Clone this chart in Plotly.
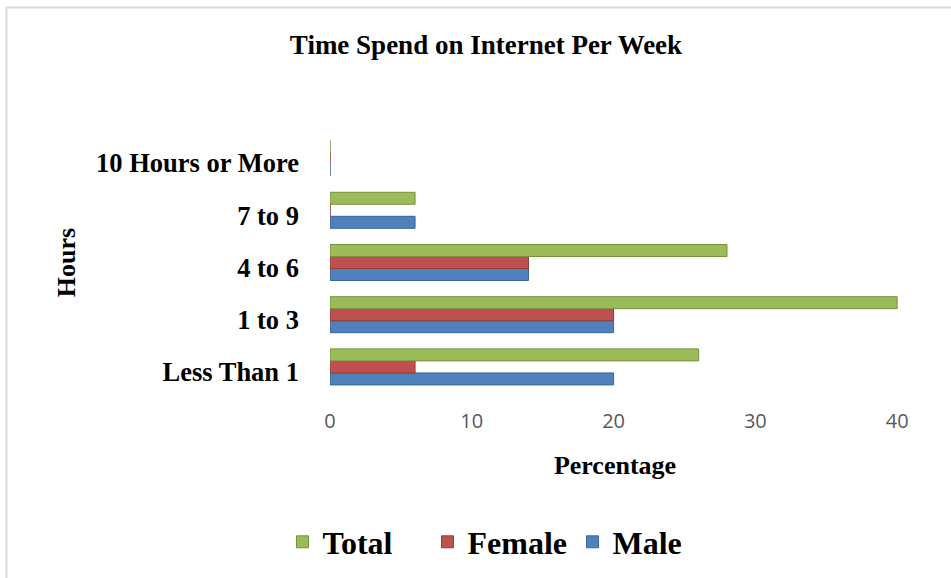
import plotly.graph_objects as go

categories = ["Less Than 1", "1 to 3", "4 to 6", "7 to 9", "10 Hours or More"]
male = [20, 20, 14, 6, 0]
female = [6, 20, 14, 0, 0]
total = [26, 40, 28, 6, 0]
x_ticks = [0, 10, 20, 30, 40]

W, H = 951, 578
serif = "Liberation Serif, Times New Roman, serif"
T, B, L, R = 132, 185, 330, 51
PW, PH = W - L - R, H - T - B

fig = go.Figure()
fig.add_trace(go.Bar(y=categories, x=male, name="<b>Male</b>", orientation="h",
                     marker=dict(color="#4F81BD", line=dict(color="#3A6596", width=1))))
fig.add_trace(go.Bar(y=categories, x=female, name="<b>Female</b>", orientation="h",
                     marker=dict(color="#C0504D", line=dict(color="#963C3A", width=1))))
fig.add_trace(go.Bar(y=categories, x=total, name="<b>Total</b>", orientation="h",
                     marker=dict(color="#9BBB59", line=dict(color="#76923C", width=1))))

fig.update_layout(
    width=W, height=H,
    margin=dict(l=L, r=R, t=T, b=B),
    paper_bgcolor="white", plot_bgcolor="white",
    barmode="group", bargap=0.31, bargroupgap=0,
    title=dict(text="<b>Time Spend on Internet Per Week</b>",
               font=dict(family=serif, size=27, color="black"),
               x=486 / W, xref="container", xanchor="center",
               y=1 - 45 / H, yref="container", yanchor="middle"),
    xaxis=dict(range=[0, 40.2], tickvals=x_ticks, showgrid=False, zeroline=False,
               showline=False, ticks="",
               tickfont=dict(family="Open Sans, Liberation Sans, sans-serif", size=20, color="#595959"),
               ticklabelstandoff=14,
               title=dict(text="<b>Percentage</b>", font=dict(family=serif, size=26, color="black"),
                          standoff=22)),
    yaxis=dict(categoryorder="array", categoryarray=categories, showgrid=False,
               zeroline=False, showline=False, ticks="",
               tickvals=categories, ticktext=["<b>%s</b>" % c for c in categories],
               tickfont=dict(family=serif, size=26.5, color="black"),
               ticklabelstandoff=30, ticklabelshift=5,
               title=dict(text="<b>Hours</b>", font=dict(family=serif, size=26, color="black"),
                          standoff=13)),
    legend=dict(orientation="h", traceorder="reversed",
                x=500 / W, xref="container", xanchor="center",
                y=1 - 542 / H, yref="container", yanchor="middle",
                font=dict(family=serif, size=32, color="black"),
                itemwidth=30, entrywidth=100),
    shapes=[
        dict(type="line", xref="paper", yref="paper",
             x0=(6 - L) / PW, x1=(951 - L) / PW,
             y0=1 + (T - 7.5) / PH, y1=1 + (T - 7.5) / PH,
             line=dict(color="#D9D9D9", width=2)),
        dict(type="line", xref="paper", yref="paper",
             x0=(6.5 - L) / PW, x1=(6.5 - L) / PW,
             y0=1 + (T - 7.5) / PH, y1=-B / PH,
             line=dict(color="#D9D9D9", width=2)),
    ],
    showlegend=True,
)

fig.write_html("out.html")
